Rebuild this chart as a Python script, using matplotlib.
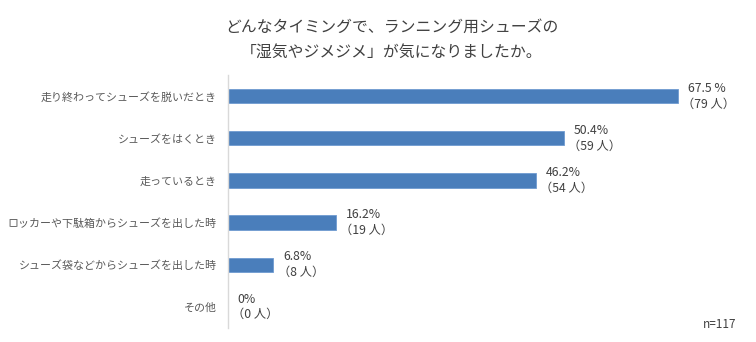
import matplotlib
matplotlib.use("Agg")
import matplotlib.pyplot as plt

plt.rcParams['font.family'] = ['Noto Sans CJK JP', 'DejaVu Sans']

categories = [
    "走り終わってシューズを脱いだとき",
    "シューズをはくとき",
    "走っているとき",
    "ロッカーや下駄箱からシューズを出した時",
    "シューズ袋などからシューズを出した時",
    "その他",
]
percents = [67.5, 50.4, 46.2, 16.2, 6.8, 0.0]
counts = [79, 59, 54, 19, 8, 0]
pct_labels = ["67.5 %", "50.4%", "46.2%", "16.2%", "6.8%", "0%"]
title = "どんなタイミングで、ランニング用シューズの\n「湿気やジメジメ」が気になりましたか。"
note = "n=117"

W, H = 756, 342
fig = plt.figure(figsize=(W / 100, H / 100), dpi=100)
fig.patch.set_facecolor("white")

left, right = 228, 728
top, bottom = 75, 328
ax = fig.add_axes([left / W, 1 - bottom / H, (right - left) / W, (bottom - top) / H])

ypos = list(range(len(categories)))
ax.barh(ypos, percents, height=0.34, color="#4a7ebb", edgecolor="#6f9bd1", linewidth=0.6)
ax.set_xlim(0, 75)
ax.set_ylim(len(categories) - 0.5, -0.5)

ax.set_yticks(ypos)
ax.set_yticklabels(categories, fontsize=7.9, color="#595959")
ax.tick_params(axis="y", length=0, pad=8)
ax.set_xticks([])
for side in ["top", "right", "bottom"]:
    ax.spines[side].set_visible(False)
ax.spines["left"].set_color("#d9d9d9")
ax.spines["left"].set_linewidth(1.0)

for y, v, c, lab in zip(ypos, percents, counts, pct_labels):
    ax.annotate(lab, xy=(v, y), xytext=(7, 1), textcoords="offset points",
                ha="left", va="bottom", fontsize=8.8, color="#404040")
    ax.annotate(f"（{c} 人）", xy=(v, y), xytext=(3, -1), textcoords="offset points",
                ha="left", va="top", fontsize=8.8, color="#404040")

fig.text(392 / W, 1 - 40 / H, title, ha="center", va="center", fontsize=11.4,
         color="#404040", linespacing=1.6)
fig.text(736 / W, 1 - 325 / H, note, ha="right", va="center", fontsize=8.5, color="#404040")

fig.savefig("out.png", dpi=100, facecolor="white")
